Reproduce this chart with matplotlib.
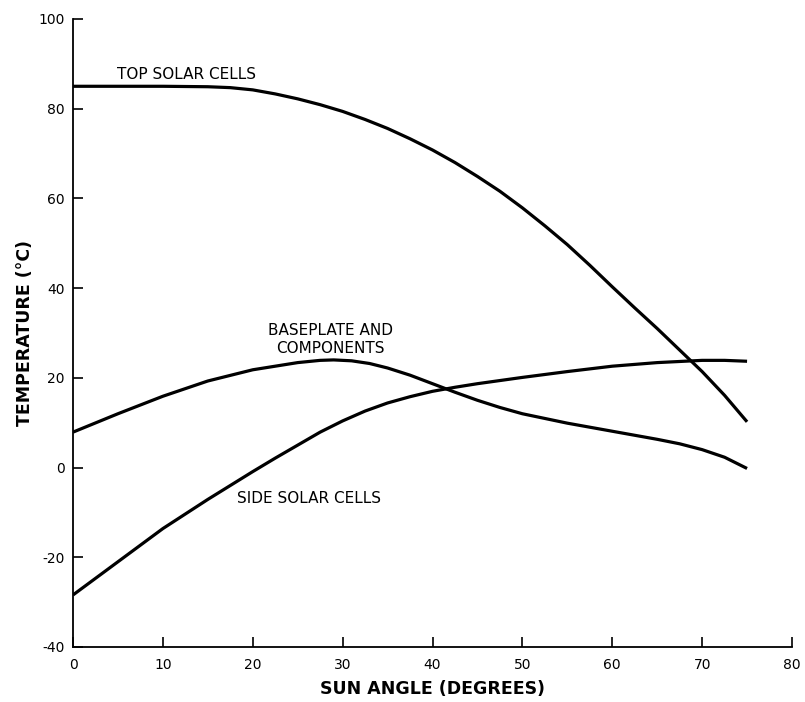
import matplotlib
matplotlib.use("Agg")
import matplotlib.pyplot as plt

plt.rcParams["axes.unicode_minus"] = False

# valores (ângulo do sol em graus, temperatura em °C)
angulo_topo = [0, 5, 10, 15, 17.5, 20, 22.5, 25, 27.5, 30, 32.5, 35, 37.5, 40, 42.5, 45,
               47.5, 50, 52.5, 55, 57.5, 60, 62.5, 65, 67.5, 70, 72.5, 75]
temp_topo = [85, 85, 85, 84.9, 84.7, 84.2, 83.3, 82.2, 80.9, 79.4, 77.6, 75.6, 73.3, 70.8, 68.0, 64.9,
             61.6, 57.9, 53.9, 49.7, 45.1, 40.3, 35.6, 31.0, 26.2, 21.4, 16.1, 10.2]

angulo_base = [0, 5, 10, 15, 20, 25, 27.5, 29, 31, 33, 35, 37.5, 40, 42.5, 45, 47.5, 50,
               55, 60, 65, 67.5, 70, 72.5, 75]
temp_base = [7.9, 12, 15.9, 19.3, 21.8, 23.4, 23.9, 24, 23.8, 23.2, 22.2, 20.6, 18.7, 16.8, 15.0, 13.4, 12.0,
             9.9, 8.1, 6.3, 5.3, 4.0, 2.3, -0.2]

angulo_lado = [0, 5, 10, 15, 20, 22.5, 25, 27.5, 30, 32.5, 35, 37.5, 40, 42.5, 45, 50,
               55, 60, 65, 70, 72.5, 75]
temp_lado = [-28.4, -21, -13.6, -7.1, -0.9, 2.1, 5.0, 7.9, 10.4, 12.6, 14.4, 15.8, 17.0, 17.9, 18.7, 20.1,
             21.4, 22.6, 23.4, 23.9, 23.9, 23.7]

xticks = [0, 10, 20, 30, 40, 50, 60, 70, 80]
yticks = [-40, -20, 0, 20, 40, 60, 80, 100]

fig = plt.figure(figsize=(8.05, 7.02), dpi=100)
ax = fig.add_axes([73 / 805, 1 - 647 / 702, (792 - 73) / 805, (647 - 19) / 702])

for x, y in [(angulo_topo, temp_topo), (angulo_base, temp_base), (angulo_lado, temp_lado)]:
    ax.plot(x, y, color="black", linewidth=2.3, solid_capstyle="butt", solid_joinstyle="round")

ax.set_xlim(0, 80)
ax.set_ylim(-40, 100)
ax.set_xticks(xticks)
ax.set_yticks(yticks)

ax.spines["top"].set_visible(False)
ax.spines["right"].set_visible(False)
ax.spines["left"].set_linewidth(1.3)
ax.spines["bottom"].set_linewidth(1.3)
ax.tick_params(axis="both", direction="in", length=7, width=1.2, labelsize=10)
ax.tick_params(axis="x", pad=8)
ax.tick_params(axis="y", pad=6)

ax.text(4.9, 87.7, "TOP SOLAR CELLS", fontsize=11, va="center", ha="left")
ax.text(28.6, 28.5, "BASEPLATE AND\nCOMPONENTS", fontsize=11, va="center", ha="center",
        linespacing=1.25)
ax.text(18.3, -7, "SIDE SOLAR CELLS", fontsize=11, va="center", ha="left")

ax.set_xlabel("SUN ANGLE (DEGREES)", fontsize=12.5, fontweight="bold", labelpad=6)
ax.set_ylabel("TEMPERATURE (°C)", fontsize=12.5, fontweight="bold", labelpad=3)

fig.savefig("out.png", dpi=100)
